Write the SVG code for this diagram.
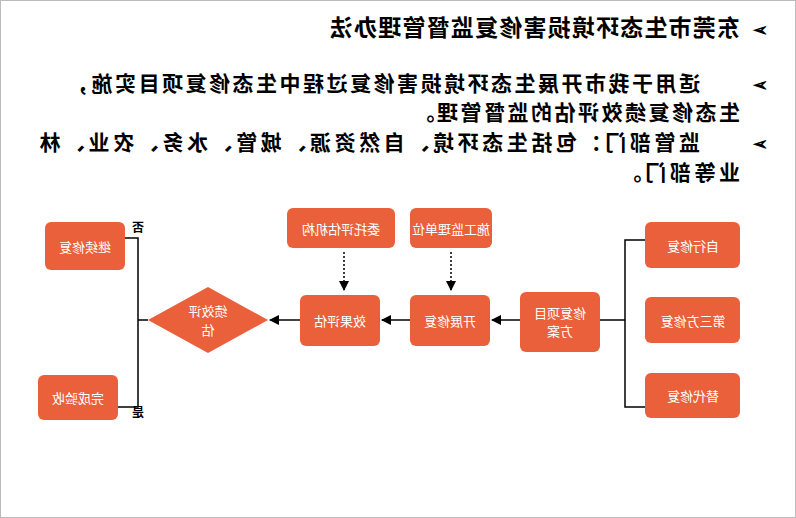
<svg xmlns="http://www.w3.org/2000/svg" width="796" height="518" viewBox="0 0 796 518">
<defs>
<style>
.t{font-family:"Noto Sans CJK SC",sans-serif;fill:#000;font-weight:bold}
.b{fill:#E9603A}
.bt{font-family:"Noto Sans CJK SC",sans-serif;fill:#fff;font-size:13px;text-anchor:middle;dominant-baseline:central}
.l{stroke:#000;stroke-width:1.5;fill:none}
.d{stroke:#000;stroke-width:1.5;fill:none;stroke-dasharray:2 2}
</style>
<marker id="a" viewBox="0 0 10 10" refX="9" refY="5" markerWidth="7" markerHeight="7" orient="auto"><path d="M0,0L10,5L0,10z" fill="#000"/></marker>
</defs>
<rect x="0.5" y="0.5" width="795" height="517" fill="#fff" stroke="#bbb"/>
<g transform="matrix(-1 0 0 1 796 0)">
<g id="text">
<text class="t" x="28" y="36" font-size="18">➢</text>
<text class="t" x="56" y="36" font-size="23" letter-spacing="1.2">东莞市生态环境损害修复监督管理办法</text>
<text class="t" x="28" y="91" font-size="18">➢</text>
<text class="t" x="96" y="91" font-size="21" letter-spacing="2.5">适用于我市开展生态环境损害修复过程中生态修复项目实施，</text>
<text class="t" x="56" y="120" font-size="21" letter-spacing="2.5">生态修复绩效评估的监督管理。</text>
<text class="t" x="28" y="150" font-size="18">➢</text>
<text class="t" x="96" y="150" font-size="21" letter-spacing="3.6">监管部门：包括生态环境、自然资源、城管、水务、农业、林</text>
<text class="t" x="56" y="180" font-size="21" letter-spacing="3.6">业等部门。</text>
</g>
<g id="connectors">
<path class="l" d="M151,240H171V407H151M171,320H196"/>
<path class="l" d="M276,320H304" marker-end="url(#a)"/>
<path class="l" d="M386,320H414" marker-end="url(#a)"/>
<path class="l" d="M496,320H526" marker-end="url(#a)"/>
<path class="l" d="M648,320H658M671,238H658V407H678"/>
<path class="d" d="M345,252V290" marker-end="url(#a)"/>
<path class="d" d="M452,252V290" marker-end="url(#a)"/>
<text class="t" x="652" y="232" font-size="12" font-weight="normal">否</text>
<text class="t" x="652" y="417" font-size="12" font-weight="normal">是</text>
</g>
<g id="n1"><rect class="b" x="56" y="222" width="95" height="46" rx="6"/><text class="bt" x="103" y="245">自行修复</text></g>
<g id="n2"><rect class="b" x="56" y="297" width="95" height="46" rx="6"/><text class="bt" x="103" y="320">第三方修复</text></g>
<g id="n3"><rect class="b" x="56" y="373" width="95" height="45" rx="6"/><text class="bt" x="103" y="395">替代修复</text></g>
<g id="n4"><rect class="b" x="196" y="292" width="80" height="60" rx="6"/><text class="bt" x="236" y="312">修复项目</text><text class="bt" x="236" y="330">方案</text></g>
<g id="n5"><rect class="b" x="306" y="295" width="80" height="51" rx="6"/><text class="bt" x="346" y="320">开展修复</text></g>
<g id="n6"><rect class="b" x="416" y="295" width="80" height="51" rx="6"/><text class="bt" x="456" y="320">效果评估</text></g>
<g id="n7"><rect class="b" x="304" y="208" width="82" height="40" rx="6"/><text class="bt" x="345" y="228">施工监理单位</text></g>
<g id="n8"><rect class="b" x="401" y="208" width="108" height="40" rx="6"/><text class="bt" x="455" y="228">委托评估机构</text></g>
<g id="n9"><path class="b" d="M528,320L588,287L648,320L588,353Z"/><text class="bt" x="588" y="310">绩效评</text><text class="bt" x="588" y="329">估</text></g>
<g id="n10"><rect class="b" x="671" y="222" width="80" height="48" rx="6"/><text class="bt" x="711" y="246">继续修复</text></g>
<g id="n11"><rect class="b" x="678" y="375" width="80" height="45" rx="6"/><text class="bt" x="718" y="397">完成验收</text></g>
</g>
</svg>
